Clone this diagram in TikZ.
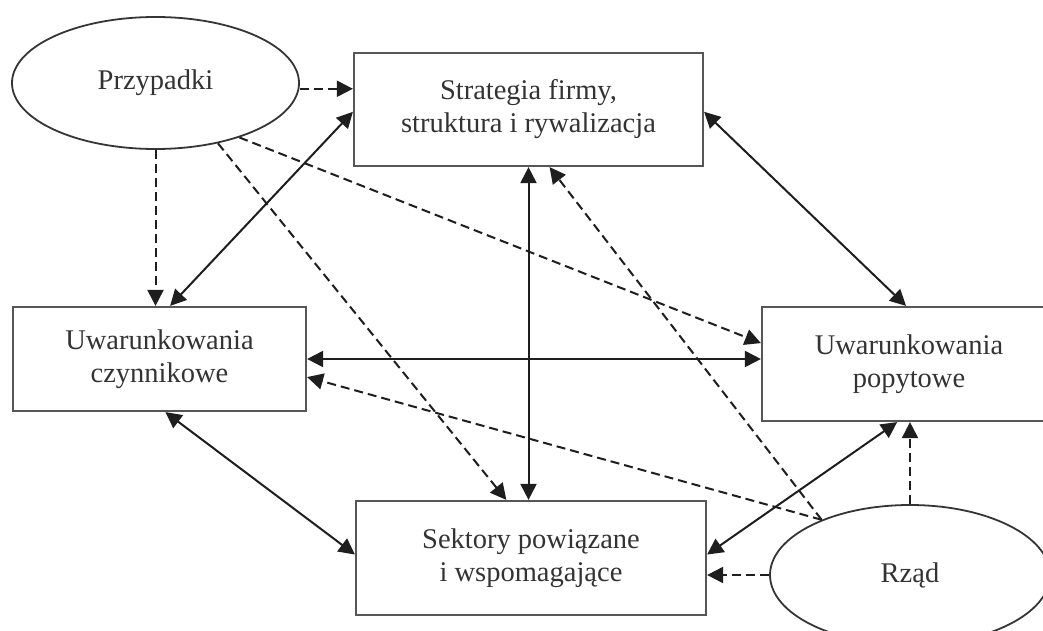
\documentclass[tikz,border=0pt]{standalone}
\usepackage{fontspec}
\setmainfont{Liberation Serif}
\usetikzlibrary{shapes.geometric,arrows.meta,calc}
\definecolor{txt}{HTML}{333333}
\definecolor{ln}{HTML}{1E1E1E}
\tikzset{
  box/.style={draw=ln!75!white, line width=2.2pt, rectangle, inner sep=0pt, align=center, text=txt,
    font=\fontsize{28.5}{33}\selectfont},
  oval/.style={draw=ln!90!white, line width=1.8pt, ellipse, inner sep=0pt, align=center, text=txt,
    font=\fontsize{28.5}{33}\selectfont},
  tip/.style={-{Triangle[length=16pt,width=16pt]}},
  biarrow/.style={draw=ln, line width=2pt, {Triangle[length=16pt,width=16pt]}-{Triangle[length=16pt,width=16pt]}},
  darrow/.style={draw=ln, line width=2pt, dash pattern=on 9pt off 5pt, tip},
}
\begin{document}
\begin{tikzpicture}[x=1pt,y=-1pt]
\useasboundingbox (0,0) rectangle (1043,631);
\clip (0,0) rectangle (1043,631);
\fill[white] (0,0) rectangle (1043,631);
% nodes
\node[oval, minimum width=287pt, minimum height=132pt] (prz) at (155.5,83) {Przypadki};
\node[box, minimum width=349pt, minimum height=113pt] (strat) at (528.5,109.5) {Strategia firmy,\\struktura i rywalizacja};
\node[box, minimum width=293pt, minimum height=104pt] (czyn) at (159.5,359) {Uwarunkowania\\czynnikowe};
\node[box, minimum width=294pt, minimum height=114pt] (pop) at (909,364) {Uwarunkowania\\popytowe};
\node[box, minimum width=350pt, minimum height=114pt] (sek) at (531,558) {Sektory powiązane\\i wspomagające};
\node[oval, minimum width=280pt, minimum height=140pt] (rz) at (910,575) {Rząd};
% helper points on node borders
\coordinate (sL) at ($(strat.north west)!0.52!(strat.south west)$);
\coordinate (sLd) at ($(strat.north west)!0.32!(strat.south west)$);
\coordinate (sR) at ($(strat.north east)!0.52!(strat.south east)$);
\coordinate (sB) at ($(strat.south west)!0.56!(strat.south east)$);
\coordinate (cT) at ($(czyn.north west)!0.536!(czyn.north east)$);
\coordinate (cB) at ($(czyn.south west)!0.52!(czyn.south east)$);
\coordinate (cR) at ($(czyn.north east)!0.67!(czyn.south east)$);
\coordinate (pT) at ($(pop.north west)!0.49!(pop.north east)$);
\coordinate (pL) at ($(pop.north west)!0.32!(pop.south west)$);
\coordinate (pB) at ($(pop.south west)!0.46!(pop.south east)$);
\coordinate (kT) at ($(sek.north west)!0.43!(sek.north east)$);
\coordinate (kL) at ($(sek.north west)!0.47!(sek.south west)$);
\coordinate (kR) at ($(sek.north east)!0.47!(sek.south east)$);
% solid two-way connectors
\draw[biarrow] (sL) -- (cT);
\draw[biarrow] (sR) -- (pT);
\draw[biarrow] (strat.south) -- (strat.south |- sek.north);
\draw[biarrow] (czyn.east) -- (czyn.east -| pop.west);
\draw[biarrow] (cB) -- (kL);
\draw[biarrow] (kR) -- (pB);
% dashed connectors from Przypadki
\draw[darrow] (prz.east |- sLd) -- (sLd);
\draw[darrow] (prz.south) -- (prz.south |- czyn.north);
\draw[darrow] (prz.-44) -- (kT);
\draw[darrow] (prz.-33) -- (pL);
% dashed connectors from Rząd
\draw[darrow] (rz.148) -- (cR);
\draw[darrow] (rz.148) -- (sB);
\draw[darrow] (rz.north) -- (rz.north |- pop.south);
\draw[darrow] (rz.west) -- (rz.west -| sek.east);
\end{tikzpicture}
\end{document}
